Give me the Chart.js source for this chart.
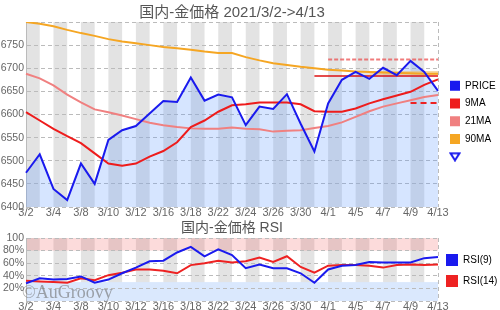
<!DOCTYPE html>
<html>
<head>
<meta charset="utf-8">
<script src="https://cdn.jsdelivr.net/npm/chart.js@4.4.1/dist/chart.umd.min.js"></script>
<style>
html, body { margin: 0; padding: 0; background: #fff; }
#wrap { position: relative; width: 500px; height: 310px; overflow: hidden; }
#main { position: absolute; left: 0; top: 0; }
#rsi { position: absolute; left: 0; top: 218px; }
#mark { position: absolute; left: 22px; top: 283px; font: 18px "Liberation Serif", serif; line-height: 18px; color: rgba(110, 110, 110, 0.6); }
</style>
</head>
<body>
<div id="wrap">
  <canvas id="main" width="500" height="218"></canvas>
  <canvas id="rsi" width="500" height="94"></canvas>
  <div id="mark">©AuGroovy</div>
</div>
<script>
const dates = ['3/2', '3/3', '3/4', '3/5', '3/8', '3/9', '3/10', '3/11', '3/12', '3/15', '3/16', '3/17', '3/18', '3/19',
  '3/22', '3/23', '3/24', '3/25', '3/26', '3/29', '3/30', '3/31', '4/1', '4/2', '4/5', '4/6', '4/7', '4/8', '4/9', '4/12', '4/13'];
const price = [6474, 6514, 6439, 6415, 6494, 6450, 6545, 6566, 6575, 6602, 6629, 6627, 6680, 6630, 6643, 6637,
  6577, 6617, 6612, 6644, 6580, 6520, 6624, 6675, 6692, 6677, 6701, 6685, 6716, 6692, 6651];
const ma9 = [6605, 6587, 6569, 6553, 6538, 6516, 6494, 6489, 6494, 6509, 6521, 6540, 6573, 6587, 6606, 6620,
  6622, 6626, 6626, 6626, 6622, 6607, 6606, 6606, 6613, 6624, 6633, 6641, 6649, 6664, 6676];
const ma21 = [6688, 6678, 6663, 6643, 6626, 6611, 6605, 6598, 6590, 6582, 6577, 6573, 6570, 6569, 6569, 6572,
  6569, 6568, 6563, 6565, 6566, 6571, 6575, 6583, 6595, 6607, 6617, 6624, 6631, 6638, 6642];
const ma90 = [6800, 6796, 6791, 6783, 6776, 6770, 6763, 6758, 6754, 6750, 6746, 6743, 6740, 6736, 6733, 6733,
  6724, 6717, 6711, 6707, 6703, 6700, 6697, 6695, 6693, 6692, 6691, 6690, 6689, 6688, 6688];
const rsi9 = [28, 36, 34, 35, 39, 29, 34, 44, 53, 63, 64, 77, 86, 71, 82, 73, 52, 58, 52, 52, 44, 29, 50, 56, 57, 62, 61, 61, 61, 68, 70];
const rsi14 = [32, 31, 30, 29, 36, 33, 41, 45, 50, 50, 48, 44, 57, 60, 64, 61, 63, 69, 62, 71, 54, 45, 56, 57, 57, 56, 53, 57, 58, 57, 58];

// level lines: [value, first index]
const highLevel = [6719, 22];
const baseLevel = [6683, 21];
const bandLevel = [6690, 25];
const nextLevel = [6625, 28];

const fam = "'Liberation Sans', Arial, 'Noto Sans CJK JP', sans-serif";
const levelLine = (lv) => dates.map((d, i) => i >= lv[1] ? lv[0] : null);

// small outlined down-triangle for the last legend entry
const tri = document.createElement('canvas');
tri.width = 12; tri.height = 10;
(function () {
  const c = tri.getContext('2d');
  c.strokeStyle = '#1a1aee';
  c.lineWidth = 2;
  c.beginPath();
  c.moveTo(1.5, 1.5); c.lineTo(10.5, 1.5); c.lineTo(6, 8.5); c.closePath();
  c.stroke();
})();

const bands = {
  id: 'bands',
  beforeDraw(chart, args, opts) {
    const { ctx, scales: { x, y } } = chart;
    ctx.save();
    const yTop = y.getPixelForValue(opts.stripeTo);
    const yBot = y.getPixelForValue(opts.stripeFrom);
    ctx.fillStyle = '#e3e3e3';
    for (let i = 0; i < dates.length - 1; i += 2) {
      const x0 = x.getPixelForValue(i);
      const x1 = x.getPixelForValue(i + 1);
      ctx.fillRect(x0, yTop, x1 - x0, yBot - yTop);
    }
    (opts.zones || []).forEach(z => {
      const t = y.getPixelForValue(z.to);
      const b = y.getPixelForValue(z.from);
      ctx.fillStyle = z.color;
      ctx.fillRect(x.left, t, x.right - x.left, b - t);
    });
    ctx.restore();
  }
};

const legendShift = {
  id: 'legendShift',
  afterLayout(chart, args, opts) {
    chart.legend.left += opts.dx || 0;
    chart.legend.top += opts.dy || 0;
  }
};

function xAxis() {
  return {
    grid: {
      drawTicks: false,
      color: c => c.index === dates.length - 1 ? '#bbb' : 'rgba(0,0,0,0)'
    },
    border: { display: false, dash: [4, 3] },
    ticks: {
      autoSkip: false, maxRotation: 0, padding: 0, color: '#666',
      font: { size: 11, family: fam, lineHeight: 1 },
      callback: (v, i) => i % 2 ? '' : dates[i]
    }
  };
}

function line(label, data, color, width) {
  return { label: label, data: data, borderColor: color, borderWidth: width, pointRadius: 0, tension: 0, fill: false };
}

new Chart(document.getElementById('main'), {
  type: 'line',
  data: {
    labels: dates,
    datasets: [
      Object.assign(line('PRICE', price, '#1a1aee', 2), { fill: 'start', backgroundColor: 'rgba(90,150,255,0.25)' }),
      line('9MA', ma9, '#ee1c1c', 2),
      line('21MA', ma21, '#f08080', 2),
      line('90MA', ma90, '#f5a623', 2),
      Object.assign(line('', levelLine(highLevel), 'rgba(235,80,80,0.75)', 2), { borderDash: [4, 2] }),
      line('', levelLine(baseLevel), '#dd1111', 1.5),
      line('', levelLine(bandLevel), 'rgba(240,190,110,0.6)', 4),
      Object.assign(line('', levelLine(nextLevel), '#ee2222', 2), { borderDash: [6, 4] })
    ]
  },
  options: {
    responsive: false,
    animation: false,
    layout: { padding: 0 },
    scales: {
      x: xAxis(),
      y: {
        min: 6400, max: 6800,
        afterFit: s => { s.width = 26; },
        grid: { color: '#bbb', drawTicks: false },
        border: { display: true, color: '#bbb', dash: [4, 3] },
        ticks: {
          stepSize: 50, padding: 2, autoSkip: false, color: '#666', font: { size: 10.5, family: fam },
          callback: v => v === 6800 ? '' : v
        }
      }
    },
    plugins: {
      filler: { drawTime: 'beforeDatasetsDraw' },
      bands: { stripeFrom: 6400, stripeTo: 6800 },
      legendShift: { dx: 4.25, dy: 73 },
      title: {
        display: true, fullSize: false, text: '国内-金価格 2021/3/2->4/13', color: '#555',
        font: { size: 15, family: fam, weight: 'normal', lineHeight: 1 },
        padding: { top: 5, bottom: 2 }
      },
      legend: {
        position: 'right', align: 'start', maxWidth: 62,
        labels: {
          usePointStyle: true, boxWidth: 11, boxHeight: 11, padding: 7.75, color: '#8a8a8a',
          font: { size: 10, family: fam },
          generateLabels: chart => chart.data.datasets
            .map((d, i) => ({ text: d.label, fillStyle: d.borderColor, strokeStyle: d.borderColor, lineWidth: 0, pointStyle: 'rect', datasetIndex: i }))
            .filter(it => it.text)
            .concat([{ text: '', fillStyle: 'rgba(0,0,0,0)', strokeStyle: 'rgba(0,0,0,0)', lineWidth: 0, pointStyle: tri }])
        }
      },
      tooltip: { enabled: false }
    }
  },
  plugins: [bands, legendShift]
});

new Chart(document.getElementById('rsi'), {
  type: 'line',
  data: {
    labels: dates,
    datasets: [
      line('RSI(9)', rsi9, '#1a1aee', 2),
      line('RSI(14)', rsi14, '#ee2222', 2)
    ]
  },
  options: {
    responsive: false,
    animation: false,
    layout: { padding: 0 },
    scales: {
      x: xAxis(),
      y: {
        min: 0, max: 100,
        afterFit: s => { s.width = 26; },
        grid: { color: '#bbb', drawTicks: false },
        border: { display: true, color: '#bbb', dash: [4, 3] },
        ticks: {
          stepSize: 20, padding: 2, autoSkip: false, color: '#666', font: { size: 10.5, family: fam },
          callback: v => v === 0 ? '' : (v === 100 ? '100' : v + '%')
        }
      }
    },
    plugins: {
      bands: {
        stripeFrom: 30, stripeTo: 100,
        zones: [
          { from: 80, to: 100, color: 'rgba(240,90,90,0.22)' },
          { from: 0, to: 30, color: 'rgba(70,140,245,0.2)' }
        ]
      },
      legendShift: { dx: -1, dy: 27 },
      title: {
        display: true, fullSize: false, text: '国内-金価格 RSI', color: '#555',
        font: { size: 14, family: fam, weight: 'normal', lineHeight: 1 },
        padding: { top: 3, bottom: 3 }
      },
      legend: {
        position: 'right', align: 'start', maxWidth: 62,
        labels: {
          boxWidth: 12, boxHeight: 12, padding: 9, color: '#8a8a8a',
          font: { size: 10, family: fam },
          generateLabels: chart => chart.data.datasets
            .map((d, i) => ({ text: d.label, fillStyle: d.borderColor, strokeStyle: d.borderColor, lineWidth: 0, datasetIndex: i }))
        }
      },
      tooltip: { enabled: false }
    }
  },
  plugins: [bands, legendShift]
});
</script>
</body>
</html>
